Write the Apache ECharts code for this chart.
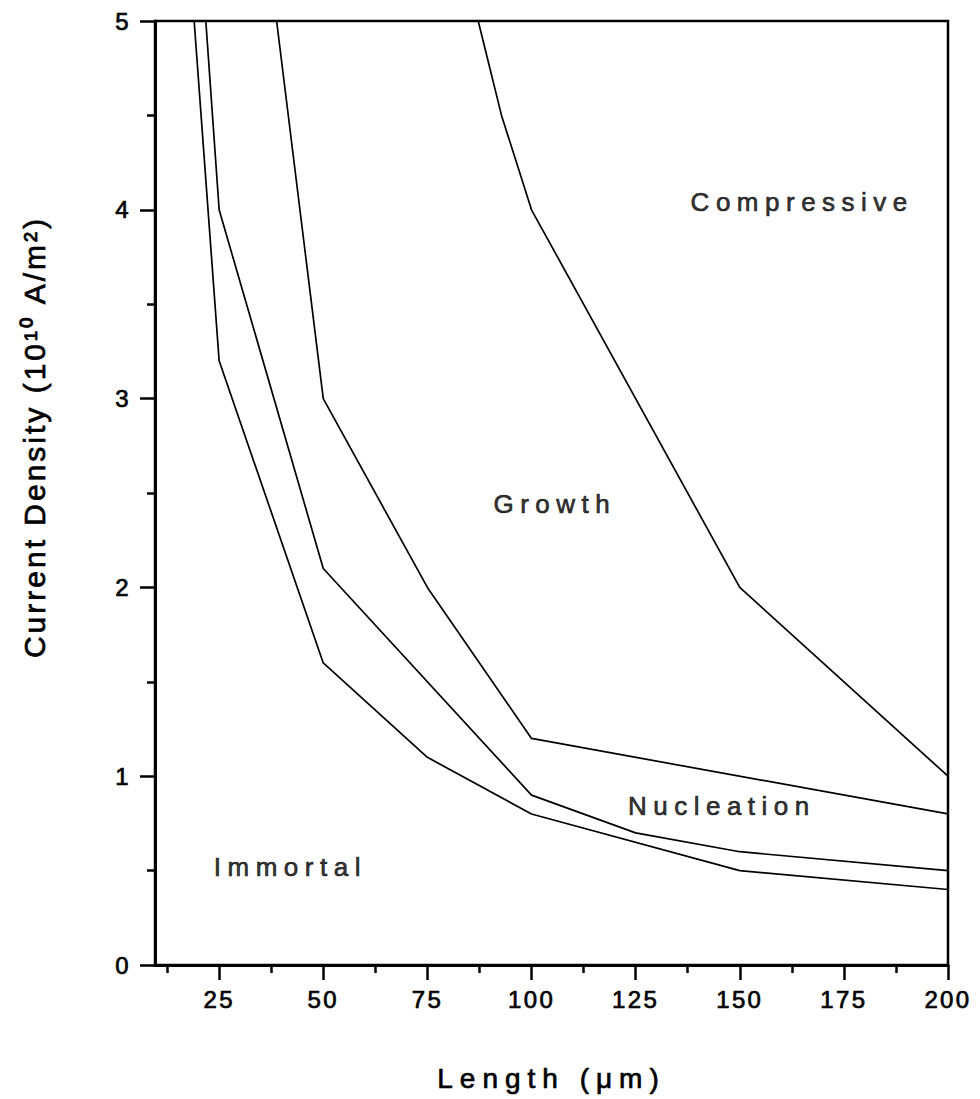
<!DOCTYPE html>
<html><head><meta charset="utf-8">
<script src="https://cdn.jsdelivr.net/npm/echarts@6/dist/echarts.min.js"></script>
<style>
html,body{margin:0;padding:0;background:#fff;}
#chart{width:980px;height:1099px;}
#chart text{letter-spacing:0.25em;}
#chart text[style*="24px"]{letter-spacing:0.1em;}
#chart text[style*="30px"]{letter-spacing:0.1em;}
</style></head><body><div id="chart"></div>
<script>
// axis settings
const xMin = 9.6, xMax = 200;
const yMin = 0, yMax = 5, yStep = 1;
const xTickValues = [25, 50, 75, 100, 125, 150, 175, 200];
const xMinorTickValues = [12.5, 37.5, 62.5, 87.5, 112.5, 137.5, 162.5, 187.5];
const xTitle = 'Length (μm)';
const yTitle = 'Current Density (10¹⁰ A/m²)';

// boundary curves (x = length in µm, y = current density in 1e10 A/m²)
const immortalX = [19.0, 25, 50, 75, 100, 150, 200];
const immortalY = [5, 3.2, 1.6, 1.1, 0.8, 0.5, 0.4];
const nucleationX = [21.8, 25, 50, 100, 125, 150, 200];
const nucleationY = [5, 4.0, 2.1, 0.9, 0.7, 0.6, 0.5];
const growthX = [38.8, 50, 75, 100, 200];
const growthY = [5, 3.0, 2.0, 1.2, 0.8];
const compressiveX = [87.2, 92.8, 100, 150, 200];
const compressiveY = [5, 4.5, 4.0, 2.0, 1.0];

// region labels
const regionNames = ['Compressive', 'Growth', 'Nucleation', 'Immortal'];
const regionX = [165.0, 105.6, 145.7, 42.1];
const regionY = [4.04, 2.44, 0.84, 0.52];

const FONT = "'Liberation Sans', Arial, Helvetica, sans-serif";
const INK = {color: '#000', textBorderColor: '#000', textBorderWidth: 0.7};
const zip = (xs, ys) => xs.map((x, i) => [x, ys[i]]);
const lineSeries = (name, xs, ys) => ({
  name, type: 'line', data: zip(xs, ys), symbol: 'none', clip: true,
  lineStyle: {color: '#000', width: 1.7}, xAxisIndex: 0, yAxisIndex: 0, z: 3
});

const gridBox = {left: 155, right: 32, top: 21, bottom: 134};
const chart = echarts.init(document.getElementById('chart'), null, {renderer: 'svg'});
chart.setOption({
  animation: false,
  backgroundColor: '#fff',
  grid: [
    Object.assign({show: true, borderColor: '#000', borderWidth: 2.5, backgroundColor: 'transparent'}, gridBox),
    Object.assign({show: false}, gridBox)
  ],
  xAxis: [
    {
      type: 'value', gridIndex: 0, min: xMin, max: xMax, position: 'bottom',
      name: xTitle, nameLocation: 'middle', nameGap: 99,
      nameTextStyle: Object.assign({fontFamily: FONT, fontSize: 28}, INK),
      axisLine: {show: true, onZero: false, lineStyle: {color: '#000', width: 3}},
      axisTick: {show: true, customValues: xTickValues, length: 15, lineStyle: {color: '#000', width: 2.5}},
      axisLabel: Object.assign({show: true, customValues: xTickValues, fontFamily: FONT, fontSize: 24, margin: 22}, INK),
      splitLine: {show: false}
    },
    {
      type: 'value', gridIndex: 1, min: xMin, max: xMax, position: 'bottom',
      axisLine: {show: false, onZero: false},
      axisTick: {show: true, customValues: xMinorTickValues, length: 8, lineStyle: {color: '#000', width: 2.5}},
      axisLabel: {show: false},
      splitLine: {show: false}
    }
  ],
  yAxis: [
    {
      type: 'value', gridIndex: 0, min: yMin, max: yMax, interval: yStep, position: 'left',
      name: yTitle, nameLocation: 'middle', nameGap: 106,
      nameTextStyle: Object.assign({fontFamily: FONT, fontSize: 30, padding: [0, 0, 0, 112]}, INK),
      axisLine: {show: true, onZero: false, lineStyle: {color: '#000', width: 3}},
      axisTick: {show: true, length: 15, lineStyle: {color: '#000', width: 2.5}},
      minorTick: {show: true, splitNumber: 2, length: 8, lineStyle: {color: '#000', width: 2.5}},
      axisLabel: Object.assign({fontFamily: FONT, fontSize: 24, margin: 24}, INK),
      splitLine: {show: false}
    },
    {type: 'value', gridIndex: 1, min: yMin, max: yMax, show: false}
  ],
  series: [
    lineSeries('Immortal boundary', immortalX, immortalY),
    lineSeries('Nucleation boundary', nucleationX, nucleationY),
    lineSeries('Growth boundary', growthX, growthY),
    lineSeries('Compressive boundary', compressiveX, compressiveY),
    {
      type: 'scatter', xAxisIndex: 0, yAxisIndex: 0, symbolSize: 0, silent: true,
      data: regionNames.map((n, i) => ({name: n, value: [regionX[i], regionY[i]]})),
      label: Object.assign({show: true, position: 'inside', formatter: p => p.name,
        fontFamily: FONT, fontSize: 26}, INK)
    }
  ]
});
</script></body></html>
